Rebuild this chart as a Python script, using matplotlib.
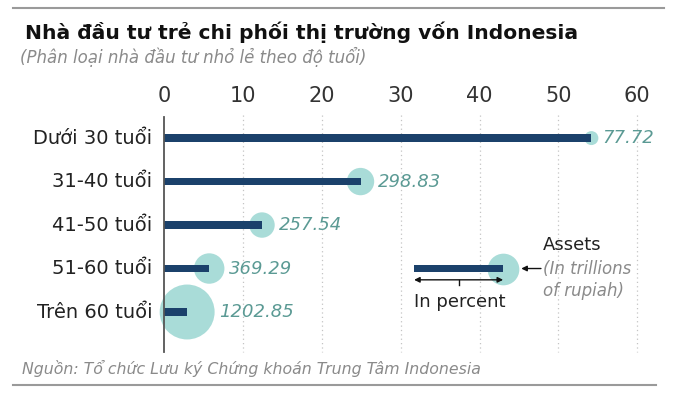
import numpy as np
import matplotlib.pyplot as plt
from matplotlib.lines import Line2D

# data
groups = ["Dưới 30 tuổi", "31-40 tuổi", "41-50 tuổi", "51-60 tuổi", "Trên 60 tuổi"]
percent = [54.2, 24.9, 12.4, 5.7, 2.9]
assets = [77.72, 298.83, 257.54, 369.29, 1202.85]
xticks = [0, 10, 20, 30, 40, 50, 60]

title = "Nhà đầu tư trẻ chi phối thị trường vốn Indonesia"
subtitle = "(Phân loại nhà đầu tư nhỏ lẻ theo độ tuổi)"
source = "Nguồn: Tổ chức Lưu ký Chứng khoán Trung Tâm Indonesia"

# legend sample
leg_percent = (31.7, 43.0)
leg_asset = 400

navy = "#1b416b"
bubble = "#a9dcd8"
teal_txt = "#5b9a94"
grey_txt = "#8a8a8a"

W, H = 678, 396
fig = plt.figure(figsize=(W / 100, H / 100), dpi=100)

# axes placed so 0 -> 164px and 60 -> 637px
x0, x1 = -3, 63
pxu = 7.88
left = 164.3 - 3 * pxu
ax = fig.add_axes([left / W, (H - 352) / H, (x1 - x0) * pxu / W, 240 / H])
ax.set_xlim(x0, x1)
ax.set_ylim(4.92, -0.6)
for s in ax.spines.values():
    s.set_visible(False)
ax.set_yticks([])

ax.xaxis.tick_top()
ax.set_xticks(xticks)
ax.set_xticklabels([str(t) for t in xticks], fontsize=15, color="#333333")
ax.tick_params(axis="x", length=0, pad=4)

# grid + zero line
for t in xticks[1:]:
    ax.plot([t, t], [-0.53, 4.92], ls=(0, (1, 2.5)), lw=0.9, color="#c4c4c4", zorder=0, clip_on=False)
ax.plot([0, 0], [-0.48, 4.92], lw=1.3, color="#555555", zorder=4, clip_on=False)

y = np.arange(len(groups))
sizes = [1.3 * a for a in assets]
ax.scatter(percent, y, s=sizes, color=bubble, zorder=2, linewidths=0, clip_on=False)
ax.barh(y, percent, height=0.18, color=navy, zorder=3)

for yi, p, a, g in zip(y, percent, assets, groups):
    r_pt = 0.571 * np.sqrt(a)
    ax.annotate(f"{a:.2f}", (p, yi), xytext=(r_pt + 3, 0), textcoords="offset points",
                va="center", ha="left", fontsize=13, style="italic", color=teal_txt)
    ax.text(-1.5, yi, g, ha="right", va="center", fontsize=14, color="#222222")

# legend sample
ly = 3.0
ax.scatter([leg_percent[1]], [ly], s=1.3 * leg_asset, color=bubble, zorder=2, linewidths=0)
ax.barh([ly], [leg_percent[1] - leg_percent[0]], left=leg_percent[0], height=0.18, color=navy, zorder=3)
ax.annotate("", xy=(leg_percent[0], 3.26), xytext=(leg_percent[1], 3.26),
            arrowprops=dict(arrowstyle="<|-|>", color="#111111", lw=1, mutation_scale=8, shrinkA=0, shrinkB=0))
mid = (leg_percent[0] + leg_percent[1]) / 2
ax.plot([mid, mid], [3.26, 3.38], color="#111111", lw=1)
ax.text(leg_percent[0], 3.77, "In percent", ha="left", va="center", fontsize=13, color="#222222")
ax.annotate("", xy=(45.3, ly), xytext=(47.8, ly),
            arrowprops=dict(arrowstyle="-|>", color="#111111", lw=1, mutation_scale=8, shrinkA=0, shrinkB=0))
ax.text(48.1, 2.45, "Assets", ha="left", va="center", fontsize=13, color="#222222")
ax.text(48.1, 3.0, "(In trillions", ha="left", va="center", fontsize=12, style="italic", color=grey_txt)
ax.text(48.1, 3.52, "of rupiah)", ha="left", va="center", fontsize=12, style="italic", color=grey_txt)

# header / footer
fig.text(25 / W, 1 - 32 / H, title, ha="left", va="center", fontsize=14.6, fontweight="bold", color="#111111")
fig.text(20 / W, 1 - 57 / H, subtitle, ha="left", va="center", fontsize=12, style="italic", color=grey_txt)
fig.text(22 / W, 1 - 368 / H, source, ha="left", va="center", fontsize=11.3, style="italic", color=grey_txt)
fig.add_artist(Line2D([13 / W, 664 / W], [1 - 8 / H, 1 - 8 / H], color="#9a9a9a", lw=1.5))
fig.add_artist(Line2D([13 / W, 656 / W], [1 - 385 / H, 1 - 385 / H], color="#9a9a9a", lw=1.5))

fig.savefig("out.png", dpi=100)
